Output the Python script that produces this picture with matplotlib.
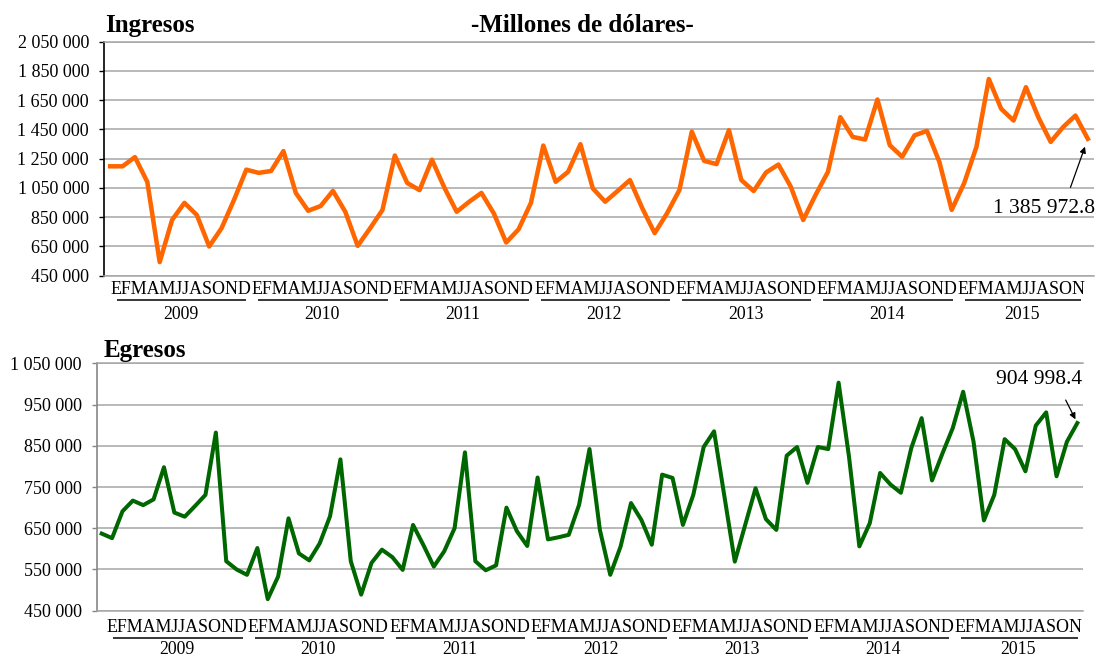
import numpy as np
import matplotlib
matplotlib.use('Agg')
import matplotlib.pyplot as plt
from matplotlib.transforms import blended_transform_factory

plt.rcParams['font.family'] = ['Liberation Serif', 'DejaVu Serif']

# --- datos (dólares, millones) -------------------------------------------
MESES = "EFMAMJJASOND"
ANIOS = [2009, 2010, 2011, 2012, 2013, 2014, 2015]
MESES_ULTIMO_ANIO = 11

ingresos = [
    1198000, 1198000, 1261000, 1091000, 543000, 831000, 948000, 865000, 650000, 775000, 967000, 1175000,
    1153000, 1166000, 1302000, 1016000, 894000, 926000, 1030000, 887000, 654000, 774000, 899000, 1272000,
    1084000, 1035000, 1243000, 1053000, 887000, 955000, 1016000, 876000, 677000, 767000, 948000, 1340000,
    1092000, 1160000, 1349000, 1047000, 956000, 1029000, 1104000, 911000, 741000, 877000, 1036000, 1435000,
    1235000, 1213000, 1445000, 1104000, 1029000, 1156000, 1210000, 1058000, 831000, 1002000, 1160000, 1534000,
    1399000, 1381000, 1655000, 1342000, 1263000, 1410000, 1440000, 1229000, 900000, 1081000, 1331000, 1795000,
    1591000, 1511000, 1739000, 1534000, 1365000, 1466000, 1545000, 1385972.8,
]

egresos = [
    637000, 626000, 691000, 717000, 706000, 720000, 798000, 688000, 678000, 704000, 731000, 882000,
    570000, 550000, 537000, 602000, 478000, 533000, 674000, 589000, 572000, 613000, 679000, 817000,
    570000, 489000, 566000, 598000, 580000, 549000, 658000, 609000, 557000, 594000, 650000, 834000,
    570000, 548000, 560000, 700000, 643000, 607000, 773000, 623000, 628000, 634000, 707000, 842000,
    646000, 537000, 606000, 711000, 670000, 610000, 780000, 772000, 658000, 731000, 847000, 885000,
    727000, 569000, 658000, 747000, 672000, 646000, 826000, 847000, 760000, 847000, 842000, 1003000,
    824000, 606000, 662000, 784000, 756000, 736000, 844000, 917000, 766000, 831000, 893000, 981000,
    860000, 669000, 731000, 866000, 842000, 788000, 899000, 931000, 776000, 860000, 904998.4,
]

ING_TICKS = list(range(450000, 2050001, 200000))
EGR_TICKS = list(range(450000, 1050001, 100000))

ING_COLOR = '#FF6600'
EGR_COLOR = '#006600'
GRID = '#a6a6a6'

W, H = 1096, 658
fig = plt.figure(figsize=(W / 100, H / 100), dpi=100)


def miles(v):
    return f"{v:,.0f}".replace(',', ' ')


def etiqueta(v):
    entero, dec = f"{v:,.1f}".split('.')
    return entero.replace(',', ' ') + '.' + dec


def fila_meses(ax, x0, x1, y_mes, y_linea, y_anio):
    """Meses como texto corrido por año, con subrayado y año debajo."""
    tr = blended_transform_factory(ax.transAxes, ax.transAxes)
    anchos = [7.889] * (len(ANIOS) - 1) + [7.167]      # ancho relativo de cada bloque
    escala = (x1 - x0) / sum(anchos)
    ax_px = ax.get_position().width * W
    ins_izq, ins_der = 7 / ax_px, 5 / ax_px
    pos = x0
    for anio, ancho in zip(ANIOS, anchos):
        n = 12 if anio != ANIOS[-1] else MESES_ULTIMO_ANIO
        a, b = pos, pos + ancho * escala
        c = (a + b) / 2
        ax.text(c, y_mes, MESES[:n], transform=tr, ha='center', va='center',
                fontsize=12.9, clip_on=False)
        ax.plot([a + ins_izq, b - ins_der], [y_linea, y_linea], transform=tr,
                color='black', lw=1.1, clip_on=False, solid_capstyle='butt')
        ax.text(c, y_anio, str(anio), transform=tr, ha='center', va='center',
                fontsize=12.8, clip_on=False)
        pos = b


def panel(rect, serie, ticks, color, lw, eje_color):
    ax = fig.add_axes(rect)
    x = np.arange(len(serie))
    ax.plot(x, serie, color=color, lw=lw, solid_joinstyle='round', zorder=3)
    ax.set_xlim(-0.5, len(serie) - 0.5)
    ax.set_ylim(ticks[0], ticks[-1])
    ax.set_xticks([])
    ax.set_yticks(ticks)
    ax.set_yticklabels([miles(t) for t in ticks])
    ax.grid(axis='y', color=GRID, lw=1.1)
    ax.set_axisbelow(True)
    ax.spines['right'].set_visible(False)
    for s in ('top', 'bottom'):
        ax.spines[s].set_color(GRID)
        ax.spines[s].set_linewidth(1.1)
    ax.spines['left'].set_color(eje_color)
    ax.spines['left'].set_linewidth(1.2)
    ax.tick_params(axis='y', length=3.6, width=1.0, pad=7.2, labelsize=13,
                   color=eje_color)
    return ax


# --- Ingresos -------------------------------------------------------------
ax1 = panel([104 / W, 1 - 275.7 / H, 990 / W, 234 / H], ingresos, ING_TICKS,
            ING_COLOR, 3.25, 'black')
fila_meses(ax1, 6 / 990, 982 / 990, -13.3 / 234, -24.6 / 234, -38.8 / 234)
ax1.annotate(etiqueta(ingresos[-1]), xy=(len(ingresos) - 1, ingresos[-1]),
             xytext=(7, -70), textcoords='offset pixels', ha='right', va='center',
             fontsize=15.5,
             arrowprops=dict(arrowstyle='-|>', color='black', lw=0.9,
                             mutation_scale=9, relpos=(0.72, 1.0),
                             shrinkA=7, shrinkB=6))

# --- Egresos --------------------------------------------------------------
ax2 = panel([96.5 / W, 1 - 610.7 / H, 986 / W, 247.4 / H], egresos, EGR_TICKS,
            EGR_COLOR, 2.9, '#868686')
fila_meses(ax2, 9.8 / 986, 986 / 986, -16.3 / 247.4, -27.3 / 247.4, -38.6 / 247.4)
ax2.annotate(etiqueta(egresos[-1]), xy=(len(egresos) - 1, egresos[-1]),
             xytext=(5, 44), textcoords='offset pixels', ha='right', va='center',
             fontsize=15.5,
             arrowprops=dict(arrowstyle='-|>', color='black', lw=0.9,
                             mutation_scale=9, relpos=(0.74, 0.0),
                             shrinkA=7, shrinkB=3))

# --- títulos --------------------------------------------------------------
fig.text(105 / W, 1 - 31.7 / H, 'Ingresos', fontsize=18, fontweight='bold',
         va='baseline', ha='left')
fig.text(582 / W, 1 - 31.7 / H, '-Millones de dólares-', fontsize=18,
         fontweight='bold', va='baseline', ha='center')
fig.text(104 / W, 1 - 356.5 / H, 'Egresos', fontsize=18, fontweight='bold',
         va='baseline', ha='left')

fig.savefig('out.png', dpi=100)
